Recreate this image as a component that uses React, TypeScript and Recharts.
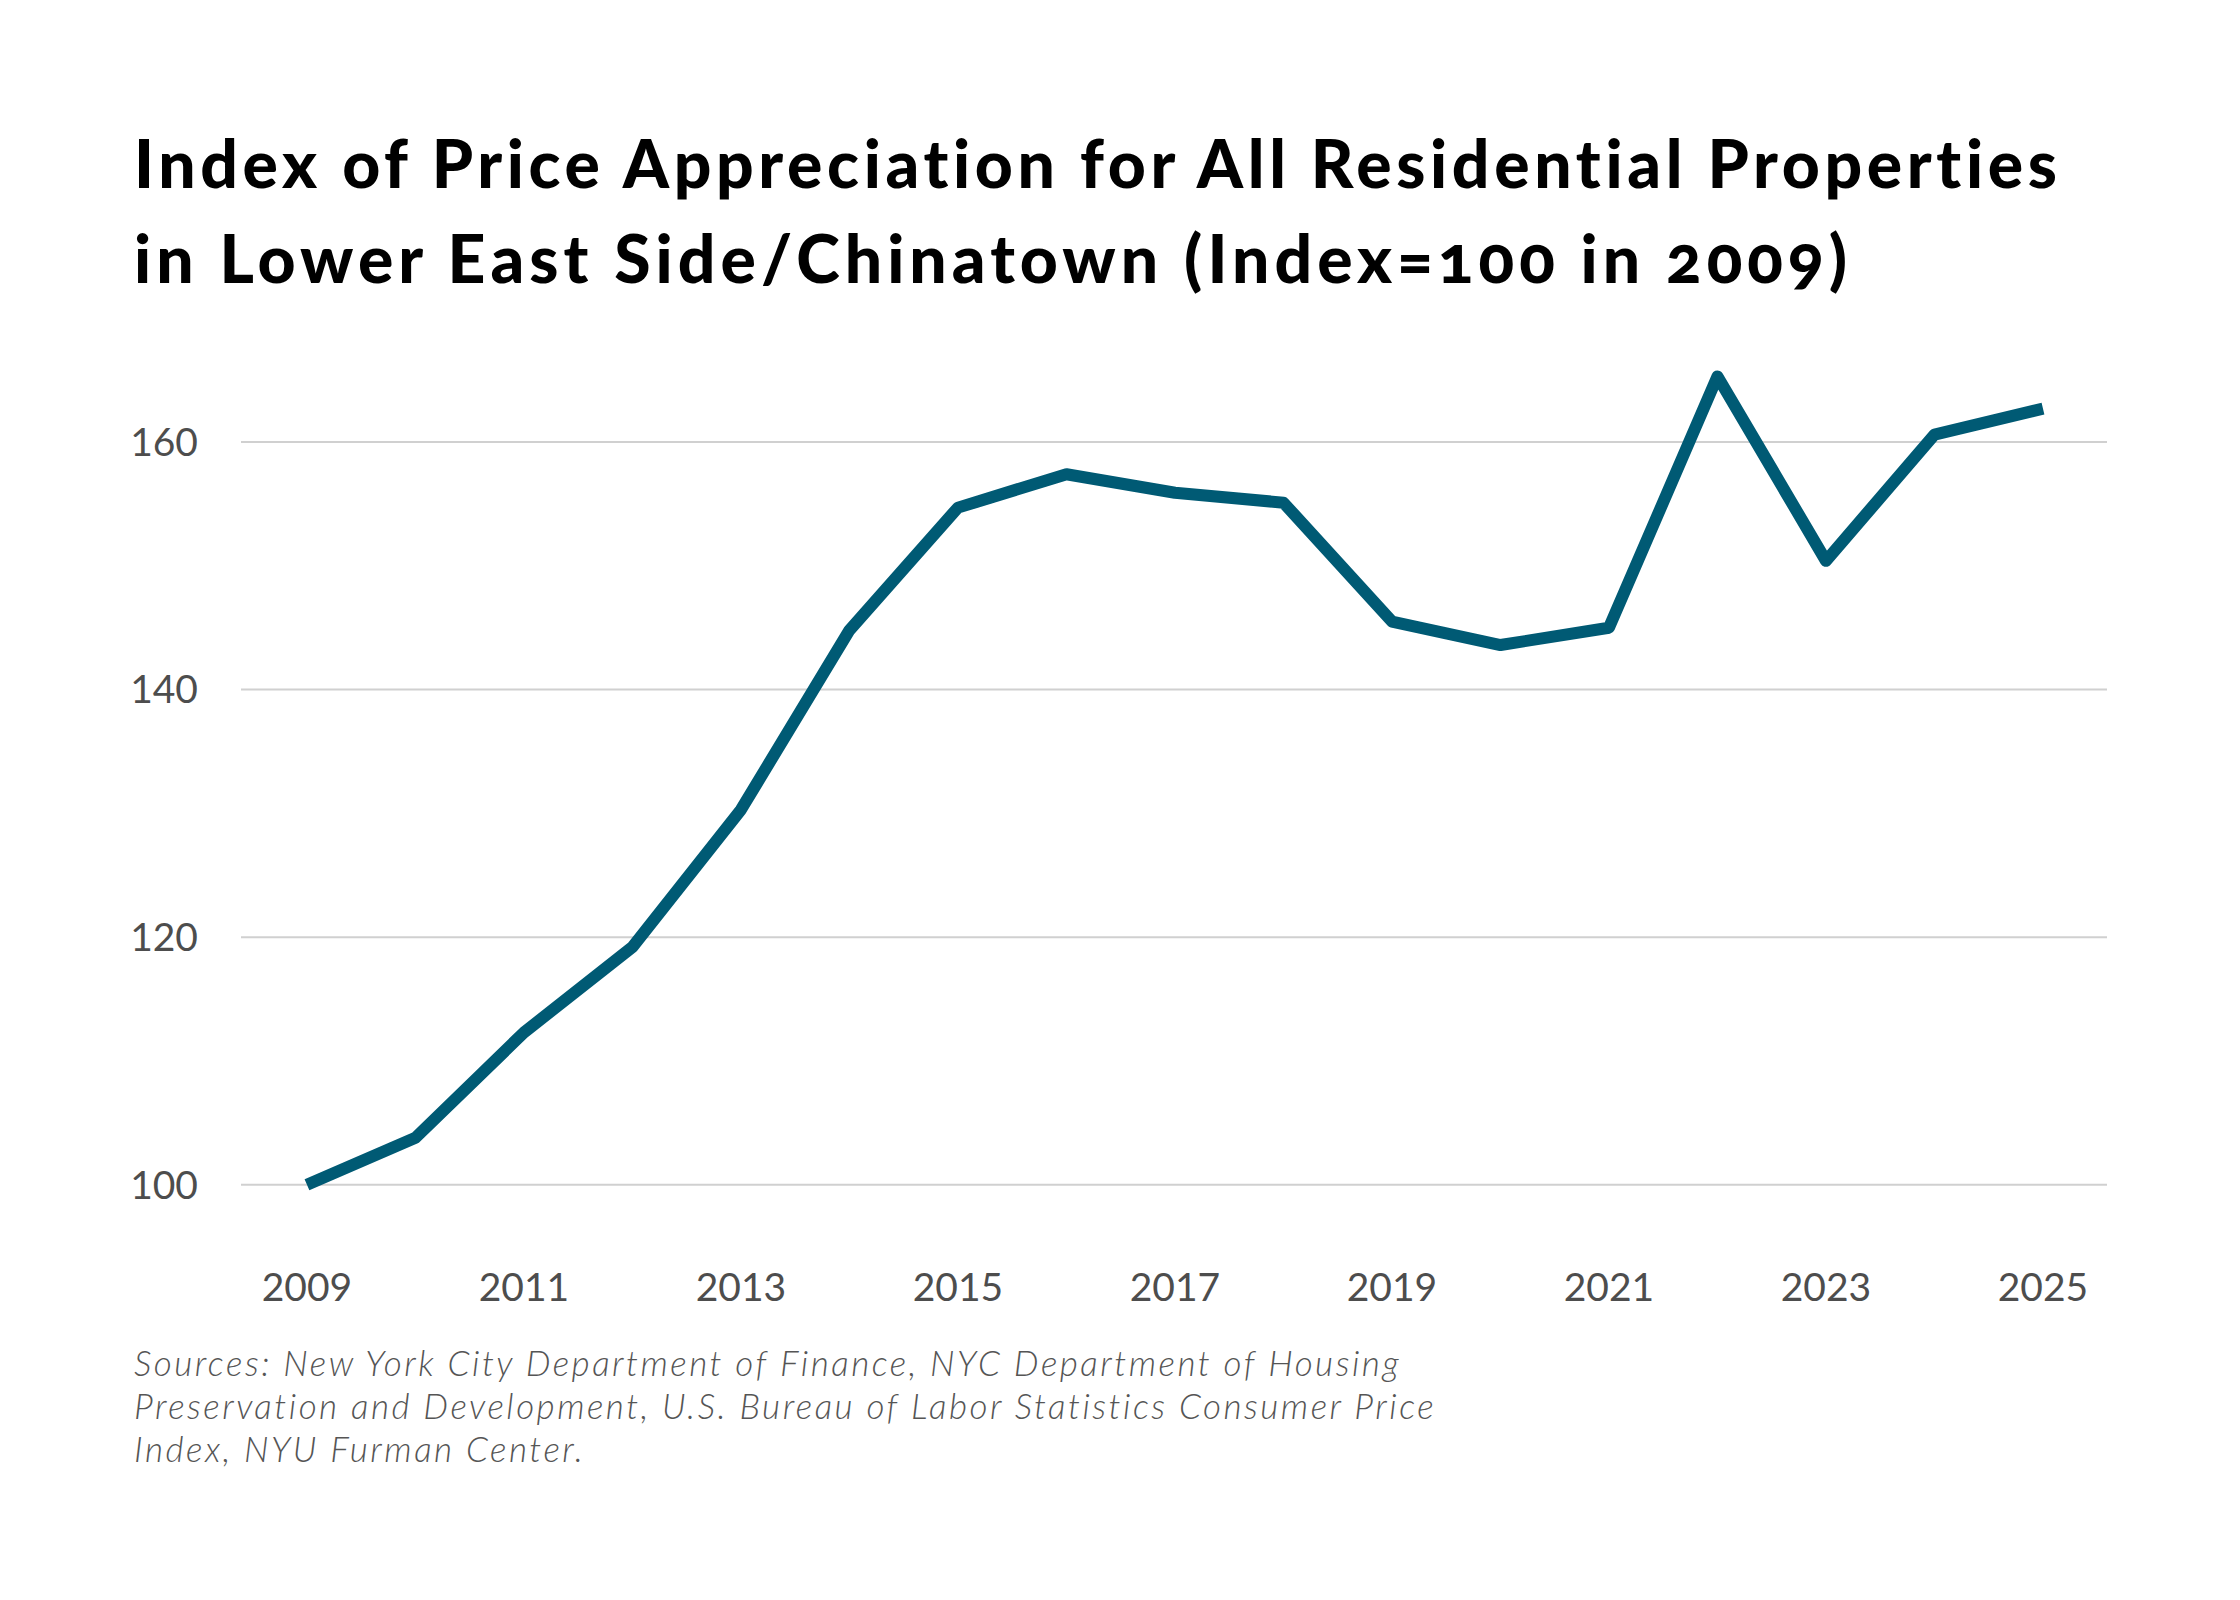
import { LineChart, Line, XAxis, YAxis, CartesianGrid } from 'recharts';

const years = [2009, 2010, 2011, 2012, 2013, 2014, 2015, 2016, 2017, 2018, 2019, 2020, 2021, 2022, 2023, 2024, 2025];
const indexValues = [100, 103.8, 112.3, 119.2, 130.3, 144.8, 154.7, 157.4, 155.9, 155.1, 145.5, 143.6, 145.0, 165.3, 150.4, 160.6, 162.7];
const xTicks = [2009, 2011, 2013, 2015, 2017, 2019, 2021, 2023, 2025];
const yTicks = [100, 120, 140, 160];

const titleLines = [
  'Index of Price Appreciation for All Residential Properties',
  'in Lower East Side/Chinatown (Index=100 in 2009)',
];
const titleWidths = [1923, 1713];
const sourceLines = [
  'Sources: New York City Department of Finance, NYC Department of Housing',
  'Preservation and Development, U.S. Bureau of Labor Statistics Consumer Price',
  'Index, NYU Furman Center.',
];

const data = years.map((year, i) => ({ year, value: indexValues[i] }));

const W = 2240;
const H = 1600;
const LINE_COLOR = '#005a74';
const TICK_STYLE = {
  fontFamily: 'Lato, sans-serif',
  fontSize: 39,
  fill: '#4d4d4d',
  fontVariantNumeric: 'oldstyle-nums',
  fontFeatureSettings: '"onum" 1',
};

export default function App() {
  return (
    <div style={{ position: 'relative', width: W, height: H, background: '#fff' }}>
      <style>{'body{margin:0}'}</style>

      {/* chart */}
      <div style={{ position: 'absolute', left: 0, top: 0 }}>
        <LineChart width={W} height={H} data={data} margin={{ top: 343, right: 133, bottom: 281, left: 0 }}>
          <CartesianGrid vertical={false} stroke="#d0d0d0" strokeWidth={2} syncWithTicks />
          <XAxis
            dataKey="year"
            type="number"
            domain={[2008.392, 2025.59]}
            ticks={xTicks}
            axisLine={false}
            tickLine={false}
            tickSize={0}
            tickMargin={14}
            height={60}
            tick={TICK_STYLE}
            allowDataOverflow
          />
          <YAxis
            domain={[94, 168]}
            ticks={yTicks}
            axisLine={false}
            tickLine={false}
            tickSize={0}
            tickMargin={43}
            width={241}
            tick={TICK_STYLE}
            allowDataOverflow
          />
          <Line
            type="linear"
            dataKey="value"
            stroke={LINE_COLOR}
            strokeWidth={12}
            strokeLinejoin="round"
            dot={false}
            activeDot={false}
            isAnimationActive={false}
          />
        </LineChart>
      </div>

      {/* title and source notes */}
      <svg width={W} height={H} style={{ position: 'absolute', left: 0, top: 0, pointerEvents: 'none' }}>
        {titleLines.map((t, i) => (
          <text
            key={t}
            x={134}
            y={188 + i * 95}
            fontFamily="Lato, sans-serif"
            fontWeight={900}
            fontSize={66}
            fill="#000"
            textLength={titleWidths[i]}
            lengthAdjust="spacing"
            style={{ fontVariantNumeric: 'oldstyle-nums', fontFeatureSettings: '"onum" 1, "liga" 0', fontVariantLigatures: 'none' }}
          >
            {t}
          </text>
        ))}
        {sourceLines.map((t, i) => (
          <text
            key={t}
            x={134}
            y={1376 + i * 43}
            fontFamily="Lato, sans-serif"
            fontWeight={300}
            fontStyle="italic"
            fontSize={35}
            letterSpacing={2.5}
            fill="#555"
          >
            {t}
          </text>
        ))}
      </svg>
    </div>
  );
}
